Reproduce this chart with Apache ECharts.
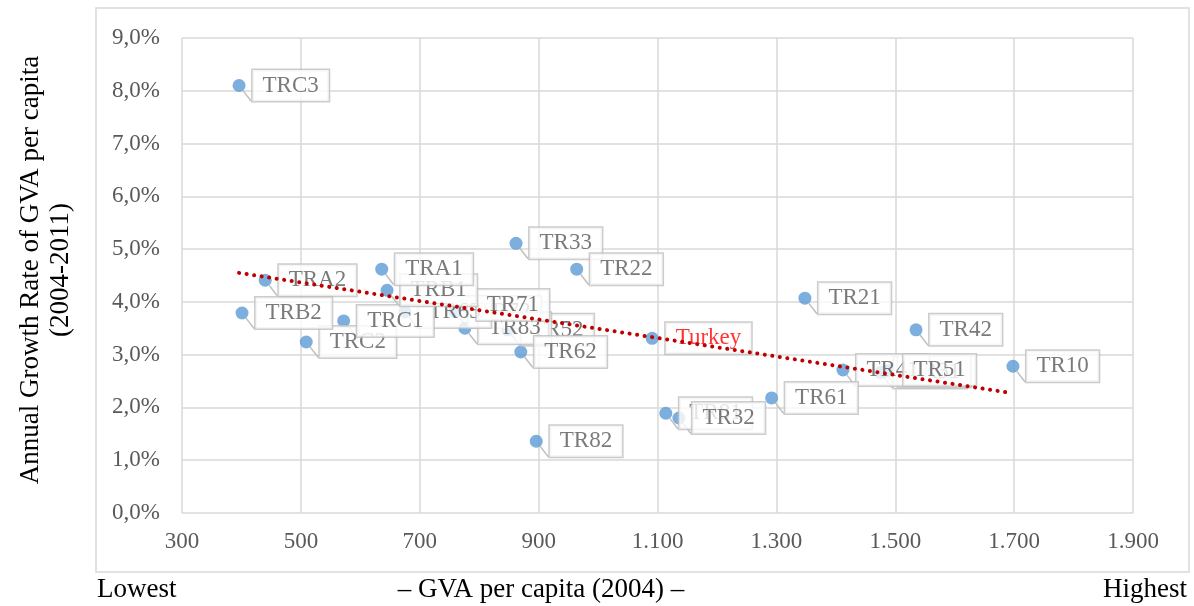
<!DOCTYPE html>
<html>
<head>
<meta charset="utf-8">
<script src="https://cdn.jsdelivr.net/npm/echarts@6/dist/echarts.min.js"></script>
<style>
html,body{margin:0;padding:0;background:#fff;}
#c{width:1194px;height:606px;}
</style>
</head>
<body>
<div id="c"></div>
<script>
// Regions (hidden/overlapped ones first so visible labels draw on top)
const regions = ['TR90','TR31','TR72','TR81','TR52','TR83','TR41','TR51','TR63','TR71','TR62','TRC2','TRC1','TRB1','TRA1','TRB2','TRA2','TRC3','TR33','TR22','TR82','TR32','TR61','TR21','TR42','TR10'];
const gva =     [1475, 1482, 759, 1114, 848, 776, 1412, 1491, 675, 773, 870, 509, 572, 645, 636, 401, 440, 396, 862, 964, 896, 1136, 1292, 1348, 1535, 1698];
const growth =  [2.66, 2.68, 3.81, 1.89, 3.47, 3.50, 2.71, 2.71, 3.81, 3.94, 3.05, 3.24, 3.64, 4.22, 4.62, 3.79, 4.41, 8.10, 5.11, 4.62, 1.36, 1.80, 2.18, 4.07, 3.47, 2.78];
const turkeyName = 'Turkey';
const turkeyGva = 1091;
const turkeyGrowth = 3.31;
// Trend line endpoints
const trendGva = [396, 1697];
const trendGrowth = [4.55, 2.27];
// Axis ticks
const xMin = 300, xMax = 1900, xStep = 200;
const yMin = 0, yMax = 9, yStep = 1;

const serif = '"Liberation Serif", "Times New Roman", serif';
const chart = echarts.init(document.getElementById('c'));

const pts = regions.map((n, i) => ({name: n, value: [gva[i], growth[i]]}));

const labelStyle = {
  show: true,
  position: 'right',
  distance: 7,
  formatter: '{b}',
  fontFamily: serif,
  fontSize: 23,
  color: '#595959',
  backgroundColor: '#ffffff',
  borderColor: '#bfbfbf',
  borderWidth: 1.5,
  padding: [5, 10, 3, 10]
};

chart.setOption({
  animation: false,
  grid: {left: 182, right: 61, top: 38, bottom: 93},
  xAxis: {
    type: 'value', min: xMin, max: xMax, interval: xStep,
    axisLine: {show: false},
    axisTick: {show: false},
    splitLine: {show: true, lineStyle: {color: '#d9d9d9', width: 1.5}},
    axisLabel: {
      margin: 17, fontFamily: serif, fontSize: 23, color: '#595959',
      formatter: v => v >= 1000 ? Math.floor(v / 1000) + '.' + String(v % 1000).padStart(3, '0') : String(v)
    }
  },
  yAxis: {
    type: 'value', min: yMin, max: yMax, interval: yStep,
    axisLine: {show: false},
    axisTick: {show: false},
    splitLine: {show: true, lineStyle: {color: '#d9d9d9', width: 1.5}},
    axisLabel: {
      margin: 22, fontFamily: serif, fontSize: 23, color: '#595959',
      formatter: v => v.toFixed(1).replace('.', ',') + '%'
    }
  },
  graphic: [
    {type: 'rect', shape: {x: 96, y: 8, width: 1093, height: 564}, style: {fill: 'none', stroke: '#d9d9d9', lineWidth: 1.5}, silent: true, z: -1},
    {type: 'text', x: 31, y: 270, rotation: Math.PI / 2, style: {text: 'Annual Growth Rate of GVA per capita', font: '27px ' + serif, fill: '#000', textAlign: 'center', textVerticalAlign: 'middle'}},
    {type: 'text', x: 61, y: 270, rotation: Math.PI / 2, style: {text: '(2004-2011)', font: '27px ' + serif, fill: '#000', textAlign: 'center', textVerticalAlign: 'middle'}},
    {type: 'text', x: 97, y: 590, style: {text: 'Lowest', font: '27px ' + serif, fill: '#000', textAlign: 'left', textVerticalAlign: 'middle'}},
    {type: 'text', x: 541, y: 590, style: {text: '– GVA per capita (2004) –', font: '27px ' + serif, fill: '#000', textAlign: 'center', textVerticalAlign: 'middle'}},
    {type: 'text', x: 1187, y: 590, style: {text: 'Highest', font: '27px ' + serif, fill: '#000', textAlign: 'right', textVerticalAlign: 'middle'}}
  ],
  series: [
    {
      type: 'scatter',
      symbolSize: 13,
      itemStyle: {color: '#5b9bd5'},
      data: pts,
      label: labelStyle,
      labelLine: {show: true, lineStyle: {color: '#bfbfbf', width: 1.5}},
      z: 3
    },
    {
      type: 'scatter',
      symbolSize: 13,
      itemStyle: {color: '#5b9bd5'},
      data: [{name: turkeyName, value: [turkeyGva, turkeyGrowth]}],
      label: Object.assign({}, labelStyle, {color: '#ff0000'}),
      z: 3
    },
    {
      type: 'line',
      data: trendGva.map((x, i) => [x, trendGrowth[i]]),
      symbol: 'none',
      lineStyle: {color: '#c00000', width: 4, type: [0.1, 7.5], cap: 'round'},
      z: 4,
      silent: true
    }
  ]
});
</script>
</body>
</html>
